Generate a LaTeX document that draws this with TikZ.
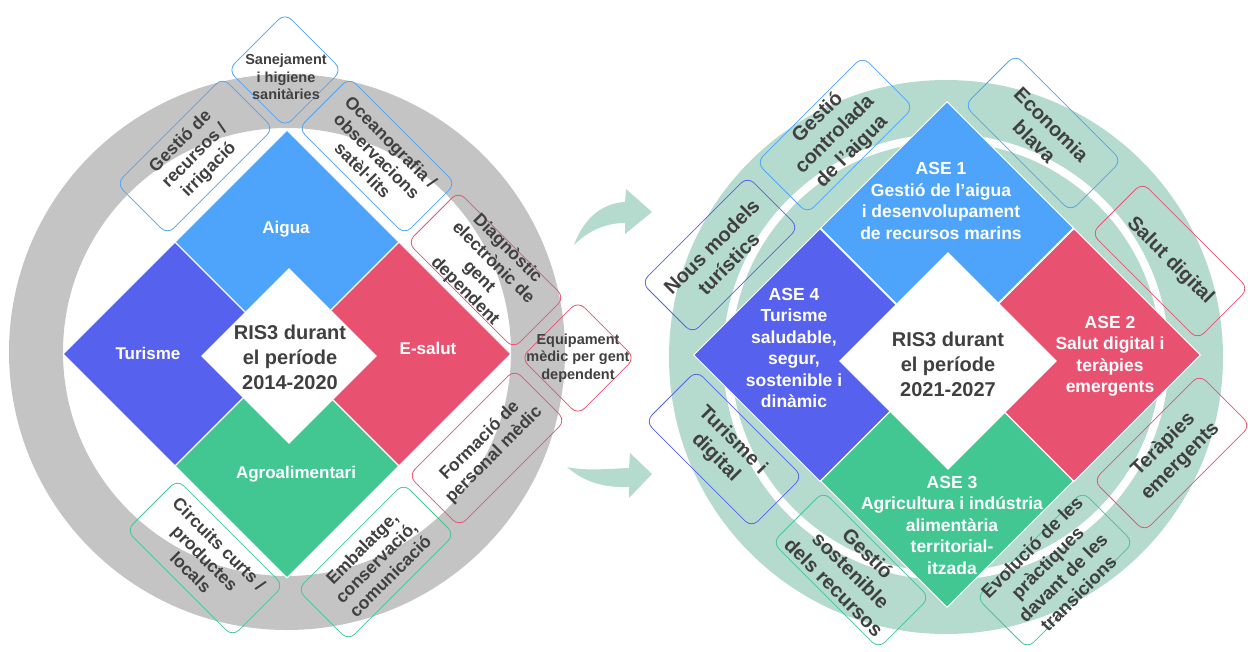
\documentclass[tikz,border=0pt]{standalone}
\usepackage{fontspec}
\setmainfont{Liberation Sans}
\usepackage{tikz}
\usetikzlibrary{shapes.geometric}

\definecolor{aiguablue}{RGB}{78,164,250}
\definecolor{turpurple}{RGB}{86,97,238}
\definecolor{salutred}{RGB}{232,82,112}
\definecolor{agrogreen}{RGB}{66,199,147}
\definecolor{ringgray}{RGB}{196,196,196}
\definecolor{ringgreen}{RGB}{181,218,206}
\definecolor{txtgray}{RGB}{64,64,64}

\tikzset{
  quad/.style={diamond, fill=#1, draw=white, line width=1pt, inner sep=0pt},
  lq/.style={quad=#1, minimum size=224pt},
  rq/.style={quad=#1, minimum size=253pt},
  core/.style={diamond, fill=white, inner sep=0pt},
  areatxt/.style={text=white, align=center, font=\bfseries\fontsize{17}{20}\selectfont},
  asetxt/.style={text=white, align=center, font=\bfseries\fontsize{17.5}{21.5}\selectfont},
  coretxt/.style={text=txtgray, align=center, font=\bfseries\fontsize{20}{25}\selectfont},
  tag/.style={draw=#1, rounded corners=9pt, line width=0.8pt, minimum width=150pt, minimum height=72pt,
    inner xsep=0pt, inner ysep=-6pt, align=center, text=txtgray, font=\bfseries\fontsize{17.5}{20}\selectfont},
  rtag/.style={tag=#1, font=\bfseries\fontsize{20}{24}\selectfont},
  tagdia/.style={diamond, draw=#1, rounded corners=9pt, line width=0.8pt, minimum size=114pt, inner sep=0pt},
  smalltxt/.style={text=txtgray, align=center, font=\bfseries\fontsize{14.5}{17.5}\selectfont},
  flow/.style={fill=ringgreen}
}

\begin{document}
\begin{tikzpicture}[x=1pt,y=-1pt]
\useasboundingbox (0,0) rectangle (1248,651);

\draw[ringgray, line width=54pt] (287,352) circle (251pt);
\fill[ringgreen] (946,357) circle (277pt);
\draw[white, line width=8pt] (946,357) circle (219pt);

\node[lq=aiguablue] (aigua) at (287,242) {};
\node[lq=turpurple] (turisme) at (175,354) {};
\node[lq=salutred] (esalut) at (399,354) {};
\node[lq=agrogreen] (agro) at (287,466) {};
\node[core, minimum size=176pt] (ris1) at (289,356) {};

\node[areatxt] (aiguat) at (286,229) {Aigua};
\node[areatxt] (turismet) at (148,353) {Turisme};
\node[areatxt] (esalutt) at (428,348) {E-salut};
\node[areatxt] (agrot) at (296,474) {Agroalimentari};
\node[coretxt] (ris1t) at (290,357) {RIS3 durant\\el període\\2014-2020};

\node[rq=aiguablue] (ase1) at (947,228) {};
\node[rq=turpurple] (ase4) at (820,355) {};
\node[rq=salutred] (ase2) at (1074,355) {};
\node[rq=agrogreen] (ase3) at (947,481) {};
\node[core, minimum size=218pt] (ris2) at (948,361) {};

\node[asetxt] (ase1t) at (941,201) {ASE 1\\Gestió de l’aigua\\i desenvolupament\\de recursos marins};
\node[asetxt] (ase4t) at (794,348) {ASE 4\\Turisme\\saludable,\\segur,\\sostenible i\\dinàmic};
\node[asetxt] (ase2t) at (1110,356) {ASE 2\\Salut digital i\\teràpies\\emergents};
\node[asetxt] (ase3t) at (952,525) {ASE 3\\Agricultura i indústria\\alimentària\\territorial-\\itzada};
\node[coretxt] (ris2t) at (948,364) {RIS3 durant\\el període\\2021-2027};

\node[tagdia=aiguablue] (sanej) at (285,70) {};
\node[smalltxt] (sanejt) at (286,77) {Sanejament\\i higiene\\sanitàries};
\node[tag=aiguablue, rotate=45] (gestrec) at (195,156) {Gestió de\\recursos /\\irrigació};
\node[tag=aiguablue, rotate=-45] (oceano) at (377,156) {Oceanografia /\\observacions\\satèl·lits};
\node[tag=salutred, rotate=-45] (diagn) at (486,270) {Diagnòstic\\electrònic de\\gent\\dependent};
\node[tagdia=salutred] (equip) at (578,358) {};
\node[smalltxt] (equipt) at (578,358) {Equipament\\mèdic per gent\\dependent};
\node[tag=salutred, rotate=45] (formac) at (487,448) {Formació de\\personal mèdic};
\node[tag=agrogreen, rotate=45] (embal) at (376,562) {Embalatge,\\conservació,\\comunicació};
\node[tag=agrogreen, rotate=-45] (circ) at (205,558) {Circuits curts /\\productes\\locals};

\node[rtag=aiguablue, rotate=45] (gestaig) at (835,135) {Gestió\\controlada\\de l’aigua};
\node[rtag=aiguablue, rotate=-45] (econ) at (1043,133) {Economia\\blava};
\node[rtag=salutred, rotate=-45] (salut) at (1170,261) {Salut digital};
\node[rtag=salutred, rotate=45] (terap) at (1172,453) {Teràpies\\emergents};
\node[rtag=agrogreen, rotate=45, font=\bfseries\fontsize{18.5}{22}\selectfont] (evol) at (1055,570) {Evolució de les\\pràctiques\\davant de les\\transicions};
\node[rtag=agrogreen, rotate=-45] (gestsost) at (851,570) {Gestió\\sostenible\\dels recursos};
\node[rtag=turpurple, rotate=-45] (turdig) at (724,449) {Turisme i\\digital};
\node[rtag=turpurple, rotate=45] (nous) at (720,255) {Nous models\\turístics};

\coordinate (up) at (574,245);
\coordinate (down) at (567,467);
\fill[flow] (up) .. controls (585,215) and (605,203) .. (625,202) -- (626,189) -- (652,212) -- (625,234) -- (625,223) .. controls (605,223) and (588,231) .. (up) -- cycle;
\fill[flow] (down) .. controls (585,471) and (605,469) .. (629,468) -- (630,453) -- (652,474) -- (629,498) -- (629,487) .. controls (602,488) and (583,481) .. (down) -- cycle;
\end{tikzpicture}
\end{document}
